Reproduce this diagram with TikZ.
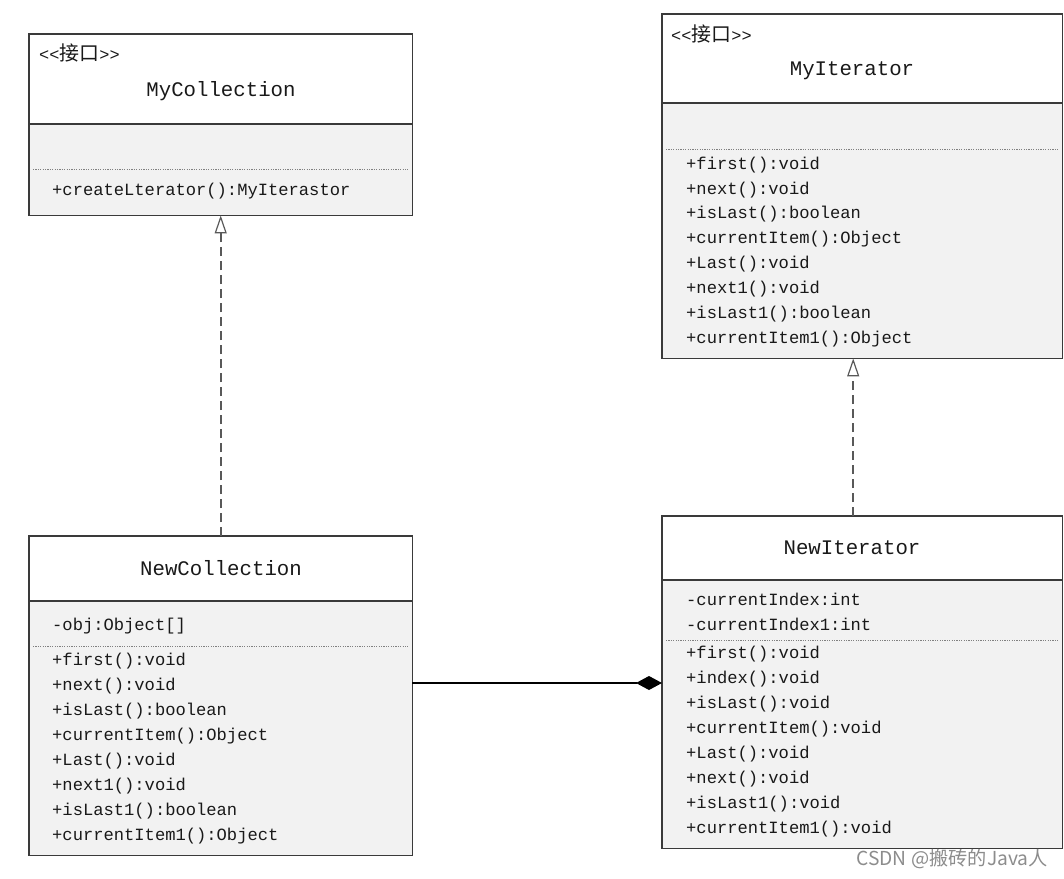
\documentclass[tikz,border=0pt]{standalone}
\usepackage{fontspec}
\setmonofont{Liberation Mono}
\newfontfamily\cjk{Noto Sans CJK SC}
\usetikzlibrary{arrows.meta}
\definecolor{bodygray}{HTML}{F2F2F2}
\definecolor{edge}{HTML}{3A3A3A}
\begin{document}
\begin{tikzpicture}[x=1bp,y=-1bp,
 cls/.style={fill=bodygray, draw=none, rectangle, inner sep=0, anchor=north west},
 frame/.style={draw=edge, line width=1.6bp},
 dsep/.style={draw=gray, line width=0.7bp, dash pattern=on 1.2bp off 1.2bp},
 mem/.style={anchor=west, font=\ttfamily\fontsize{17.2}{17.2}\selectfont, inner sep=0, text=black!90},
 ttl/.style={font=\ttfamily\fontsize{20.8}{20.8}\selectfont, inner sep=0, text=black!90},
 stereo/.style={anchor=west, font=\ttfamily\fontsize{17}{17}\selectfont, inner sep=0, text=black!90},
 realize/.style={draw=black!65, line width=1.6bp, dash pattern=on 9bp off 5bp, -{Triangle[open, length=18bp, width=12bp, line width=1.2bp]}},
 comp/.style={draw=black, line width=1.4bp, -{Diamond[length=26bp, width=14bp]}}
]
\useasboundingbox (0,0) rectangle (1064,879);

% ---- MyCollection ----
\node[cls, minimum width=383bp, minimum height=181bp] (mc) at (29,34) {};
\fill[white] (29,34) rectangle (412,124);
\draw[frame] (mc.north west) rectangle (mc.south east);
\draw[frame] (29,124) -- (412,124);
\draw[dsep] (33,169) -- (408,169);
\node[stereo] (mcs) at (39,53) {<<{\cjk\fontsize{20}{20}\selectfont 接口}>>};
\node[ttl] (mct) at (221,91) {MyCollection};
\node[mem] (mcm1) at (52,191) {+createLterator():MyIterastor};

% ---- MyIterator ----
\node[cls, minimum width=400bp, minimum height=344bp] (mi) at (662,14) {};
\fill[white] (662,14) rectangle (1062,103);
\draw[frame] (mi.north west) rectangle (mi.south east);
\draw[frame] (662,103) -- (1062,103);
\draw[dsep] (666,149) -- (1058,149);
\node[stereo] (mis) at (671,34) {<<{\cjk\fontsize{20}{20}\selectfont 接口}>>};
\node[ttl] (mit) at (852,71) {MyIterator};
\node[mem] (mim1) at (686,165) {+first():void};
\node[mem] (mim2) at (686,190) {+next():void};
\node[mem] (mim3) at (686,214) {+isLast():boolean};
\node[mem] (mim4) at (686,239) {+currentItem():Object};
\node[mem] (mim5) at (686,264) {+Last():void};
\node[mem] (mim6) at (686,289) {+next1():void};
\node[mem] (mim7) at (686,314) {+isLast1():boolean};
\node[mem] (mim8) at (686,339) {+currentItem1():Object};

% ---- NewCollection ----
\node[cls, minimum width=383bp, minimum height=319bp] (nc) at (29,536) {};
\fill[white] (29,536) rectangle (412,601);
\draw[frame] (nc.north west) rectangle (nc.south east);
\draw[frame] (29,601) -- (412,601);
\draw[dsep] (33,646) -- (408,646);
\node[ttl] (nct) at (221,568) {NewCollection};
\node[mem] (nca1) at (52,626) {-obj:Object[]};
\node[mem] (ncm1) at (52,661) {+first():void};
\node[mem] (ncm2) at (52,686) {+next():void};
\node[mem] (ncm3) at (52,711) {+isLast():boolean};
\node[mem] (ncm4) at (52,736) {+currentItem():Object};
\node[mem] (ncm5) at (52,761) {+Last():void};
\node[mem] (ncm6) at (52,786) {+next1():void};
\node[mem] (ncm7) at (52,811) {+isLast1():boolean};
\node[mem] (ncm8) at (52,836) {+currentItem1():Object};

% ---- NewIterator ----
\node[cls, minimum width=400bp, minimum height=332bp] (ni) at (662,516) {};
\fill[white] (662,516) rectangle (1062,580);
\draw[frame] (ni.north west) rectangle (ni.south east);
\draw[frame] (662,580) -- (1062,580);
\draw[dsep] (666,640) -- (1058,640);
\node[ttl] (nit) at (852,548) {NewIterator};
\node[mem] (nia1) at (686,599) {-currentIndex:int};
\node[mem] (nia2) at (686,624) {-currentIndex1:int};
\node[mem] (nim1) at (686,654) {+first():void};
\node[mem] (nim2) at (686,679) {+index():void};
\node[mem] (nim3) at (686,704) {+isLast():void};
\node[mem] (nim4) at (686,729) {+currentItem():void};
\node[mem] (nim5) at (686,754) {+Last():void};
\node[mem] (nim6) at (686,779) {+next():void};
\node[mem] (nim7) at (686,804) {+isLast1():void};
\node[mem] (nim8) at (686,829) {+currentItem1():void};

% ---- connectors ----
\draw[realize] (nc.north) -- (mc.south);
\draw[realize] ([xshift=-9bp]ni.north) -- ([xshift=-9bp]mi.south);
\coordinate (cy) at (0,683);
\draw[comp] (nc.east |- cy) -- (ni.west |- cy);

% ---- watermark ----
\node[anchor=east, inner sep=0, text=black!45, font=\cjk\fontsize{19.3}{19.3}\selectfont] (wm) at (1048,859) {CSDN @搬砖的Java人};
\end{tikzpicture}
\end{document}
